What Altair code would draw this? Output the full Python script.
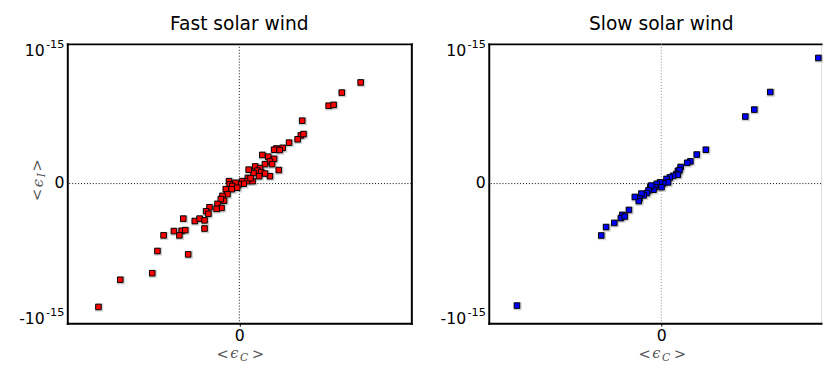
import altair as alt
import pandas as pd

# ---- data (values in units of 1e-15) ----
fast_c = [0.907, 0.766, 0.668, 0.705, 0.470, 0.460, 0.480, 0.436, 0.372, 0.324,
          0.277, 0.260, 0.302, 0.172, 0.216, 0.260, 0.229, 0.192, 0.245, 0.295,
          0.229, 0.119, 0.155, 0.136, 0.163, 0.192, 0.106, 0.070, 0.148, 0.099,
          0.064, 0.057, 0.084, 0.021, 0.033, -0.004, -0.028, -0.077, -0.072, -0.053,
          -0.016, -0.101, -0.057, -0.089, -0.126, -0.114, -0.138, -0.163, -0.133, -0.170,
          -0.223, -0.248, -0.231, -0.333, -0.297, -0.260, -0.260, -0.419, -0.489, -0.431,
          -0.404, -0.448, -0.566, -0.612, -0.382, -0.651, -0.890, -1.053]
fast_i = [0.756, 0.680, 0.582, 0.588, 0.470, 0.360, 0.370, 0.331, 0.306, 0.267,
          0.262, 0.253, 0.251, 0.214, 0.201, 0.185, 0.165, 0.145, 0.145, 0.101,
          0.055, 0.128, 0.116, 0.097, 0.086, 0.075, 0.079, 0.104, 0.055, 0.018,
          0.042, 0.018, 0.040, 0.018, -0.001, -0.006, 0.006, 0.018, -0.006, -0.018,
          -0.031, -0.042, -0.042, -0.079, -0.092, -0.128, -0.116, -0.152, -0.182, -0.189,
          -0.177, -0.207, -0.226, -0.280, -0.262, -0.275, -0.336, -0.262, -0.355, -0.353,
          -0.348, -0.387, -0.387, -0.504, -0.529, -0.670, -0.719, -0.922]

slow_c = [1.170, 0.812, 0.693, 0.626, 0.332, 0.264, 0.217, 0.193, 0.144, 0.124,
          0.136, 0.112, 0.124, 0.088, 0.064, 0.039, 0.051, 0.015, -0.009, -0.034,
          0.002, -0.046, -0.058, -0.082, -0.075, -0.095, -0.107, -0.131, -0.148, -0.163,
          -0.168, -0.197, -0.241, -0.290, -0.301, -0.272, -0.350, -0.411, -0.447, -1.075]
slow_i = [0.939, 0.684, 0.553, 0.501, 0.253, 0.217, 0.166, 0.155, 0.124, 0.095,
          0.100, 0.071, 0.066, 0.058, 0.046, 0.034, 0.009, 0.002, 0.009, -0.002,
          -0.027, -0.027, -0.046, -0.027, -0.015, -0.051, -0.071, -0.088, -0.075, -0.112,
          -0.131, -0.100, -0.197, -0.234, -0.258, -0.246, -0.294, -0.325, -0.388, -0.912]

# y tick labels: mantissa part and superscript exponent part
y_tick_values = [-1, 0, 1]
y_tick_main = ["-10", "0", "10"]
y_tick_sup = ["-15", "", "-15"]
x_tick_values = [0]
panel_titles = ["Fast solar wind", "Slow solar wind"]
zero = [0]

# ---- layout / style ----
H = 285
W_FAST = 351
W_SLOW = 339
Y_DOM = [-1.044, 1.044]
FAST_X_DOM = [-1.286, 1.286]
SLOW_X_DOM = [-1.285, -1.285 + 1.285 * 2 * W_SLOW / 352]

FONT = "DejaVu Sans"
MATH_FONT = "DejaVu Serif"
TITLE_COLOR = "#555555"

frame = dict(domainWidth=2, domainColor="black", domainCap="square", grid=False, title=None)
ticks_df = pd.DataFrame({"v": y_tick_values, "main": y_tick_main, "sup": y_tick_sup})


def one_row():
    return pd.DataFrame({"k": [0]})


def text_piece(txt, x, y, size=15, italic=False, angle=0):
    return alt.Chart(one_row()).mark_text(
        text=txt, font=MATH_FONT, fontSize=size, fontStyle="italic" if italic else "normal",
        color=TITLE_COLOR, align="center", baseline="middle", angle=angle
    ).encode(x=alt.value(x), y=alt.value(y))


def panel(xs, ys, color, title, xdom, width, vline_color, right_frame, ylabel, center_dx):
    df = pd.DataFrame({"c": xs, "i": ys})
    xs_scale = alt.Scale(domain=xdom, nice=False, zero=False)
    ys_scale = alt.Scale(domain=Y_DOM, nice=False, zero=False)

    x_axis = alt.Axis(values=x_tick_values, labelFontSize=16, labelFont=FONT, labelColor="black",
                      labelPadding=2, tickSize=3, tickColor="black", **frame)
    y_axis = alt.Axis(values=y_tick_values, labels=False, ticks=False, **frame)

    zdf = pd.DataFrame({"z": zero})
    vrule = alt.Chart(zdf).mark_rule(color=vline_color, strokeWidth=1, strokeDash=[1, 2]).encode(
        x=alt.X("z:Q", scale=xs_scale,
                axis=alt.Axis(orient="top", labels=False, ticks=False, **frame)))
    hrule = alt.Chart(zdf).mark_rule(color="black", strokeWidth=1, strokeDash=[1, 2]).encode(
        y=alt.Y("z:Q", scale=ys_scale,
                axis=alt.Axis(orient="right", labels=False, ticks=False, **frame) if right_frame else None))

    base = alt.Chart(df)
    halo = base.mark_square(size=70, filled=True, color="#9a9a9a", opacity=0.45,
                            xOffset=0.6, yOffset=0.6).encode(
        x=alt.X("c:Q", scale=xs_scale, axis=None),
        y=alt.Y("i:Q", scale=ys_scale, axis=None))
    pts = base.mark_square(size=32, filled=True, fill=color, stroke="black", strokeWidth=1,
                           opacity=1).encode(
        x=alt.X("c:Q", scale=xs_scale, axis=x_axis),
        y=alt.Y("i:Q", scale=ys_scale, axis=y_axis))

    # y tick labels drawn through the y scale: mantissa + raised exponent
    tick_base = alt.Chart(ticks_df)
    lab_zero = tick_base.transform_filter("datum.sup == ''").mark_text(
        font=FONT, fontSize=16, color="black", align="right", baseline="middle").encode(
        x=alt.value(-3), y=alt.Y("v:Q", scale=ys_scale, axis=None), text="main:N")
    lab_main = tick_base.transform_filter("datum.sup != ''").mark_text(
        font=FONT, fontSize=16, color="black", align="right", baseline="middle", dy=1.5).encode(
        x=alt.value(-23), y=alt.Y("v:Q", scale=ys_scale, axis=None), text="main:N")
    lab_sup = tick_base.transform_filter("datum.sup != ''").mark_text(
        font=FONT, fontSize=11.5, color="black", align="right", baseline="middle", dy=-4.5).encode(
        x=alt.value(-3), y=alt.Y("v:Q", scale=ys_scale, axis=None), text="sup:N")

    layers = [vrule, hrule, halo, pts, lab_zero, lab_main, lab_sup]

    cx = width / 2 + center_dx
    # panel title
    layers.append(alt.Chart(one_row()).mark_text(
        text=title, font=FONT, fontSize=19, color="black", align="center", baseline="alphabetic"
    ).encode(x=alt.value(cx), y=alt.value(-14.5)))
    # x-axis title  <eps_C>
    layers += [
        text_piece("<", cx - 17, H + 31),
        text_piece("ϵ", cx - 5, H + 30, italic=True),
        text_piece("C", cx + 5, H + 35, size=11, italic=True),
        text_piece(">", cx + 19, H + 31),
    ]
    # y-axis title  <eps_I>
    if ylabel:
        layers += [
            text_piece("<", -31, 154, angle=270),
            text_piece("ϵ", -30, 142, angle=270, italic=True),
            text_piece("I", -26, 134, size=11, angle=270, italic=True),
            text_piece(">", -31, 124, angle=270),
        ]

    return alt.layer(*layers).resolve_axis(x="independent", y="independent").properties(
        width=width, height=H)


left = panel(fast_c, fast_i, "#ff0000", panel_titles[0], FAST_X_DOM, W_FAST, "black", True, True, 0)
right = panel(slow_c, slow_i, "#0000ff", panel_titles[1], SLOW_X_DOM, W_SLOW, "#888888", False, False,
              (352 - W_SLOW) / 2)

chart = alt.hconcat(left, right, spacing=79, bounds="flush").properties(
    padding={"left": 10.5, "top": 3, "right": 0, "bottom": 0}
).configure_view(stroke=None).configure(background="white")

chart.save("out.html", embed_options={"renderer": "svg", "actions": False})
